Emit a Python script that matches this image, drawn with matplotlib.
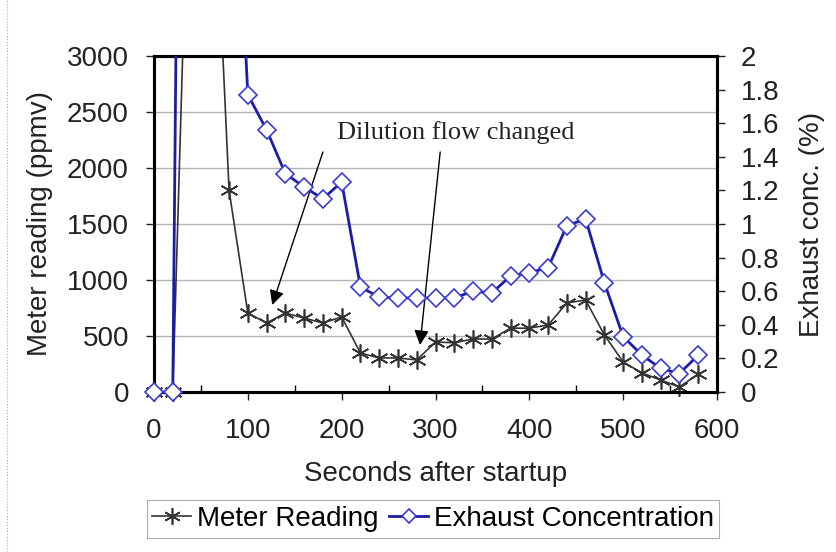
import numpy as np
import matplotlib.pyplot as plt
from matplotlib.lines import Line2D

# data (x every 20 s)
seconds = np.arange(0, 600, 20)
meter_ppmv = [0, 0, 5700, 5450, 1800, 705, 616, 705, 660, 616, 670, 348, 304, 304, 286,
              446, 440, 473, 473, 570, 570, 598, 795, 821, 509, 268, 170, 107, 45, 161]
exhaust_pct = [0, 0, 12.0, 9.0, 4.0, 1.77, 1.56, 1.30, 1.22, 1.15, 1.25, 0.625, 0.565, 0.56, 0.56,
               0.56, 0.56, 0.60, 0.59, 0.69, 0.71, 0.74, 0.99, 1.03, 0.65, 0.33, 0.22, 0.14, 0.11, 0.22]

x_ticks = [0, 100, 200, 300, 400, 500, 600]
left_ticks = [0, 500, 1000, 1500, 2000, 2500, 3000]
right_ticks = np.round(np.arange(0, 2.01, 0.2), 1)
right_labels = ['0', '0.2', '0.4', '0.6', '0.8', '1', '1.2', '1.4', '1.6', '1.8', '2']

plt.rcParams['font.family'] = ['Liberation Sans', 'DejaVu Sans']
fs = 20

fig = plt.figure(figsize=(8.36, 5.52), dpi=100)
ax = fig.add_axes([154/836, 1-392/552, (717-154)/836, (392-56)/552])
ax2 = ax.twinx()

black = '#333333'
blue = '#1c1ca6'
star = (6, 2, 0)

# meter reading (left axis)
ax.plot(seconds, meter_ppmv, color=black, lw=1.2, zorder=3)
m = np.array(meter_ppmv) <= 3000
ax.plot(seconds[m], np.array(meter_ppmv)[m], ls='none', marker=star, ms=13,
        mec=black, mew=1.2, clip_on=False, zorder=4)

# exhaust concentration (right axis)
ax2.plot(seconds, exhaust_pct, color=blue, lw=2, zorder=3)
e = np.array(exhaust_pct) <= 2
ax2.plot(seconds[e], np.array(exhaust_pct)[e], ls='none', marker='D', ms=9,
         mec='#3a3ad6', mfc='white', mew=1.2, clip_on=False, zorder=4)

ax.set_xlim(0, 600)
ax.set_ylim(0, 3000)
ax2.set_ylim(0, 2)
ax.set_xticks(x_ticks)
ax.set_xticks(np.arange(50, 600, 100), minor=True)
ax.set_yticks(left_ticks)
ax2.set_yticks(right_ticks)
ax2.set_yticklabels(right_labels)

ax.yaxis.grid(True, color='#b4b4b4', lw=1)
ax.set_axisbelow(True)

ax.tick_params(axis='y', direction='out', length=6, width=1, pad=12, labelsize=fs, colors='#222222')
ax.tick_params(axis='x', direction='out', length=6, width=1, pad=13, labelsize=fs, colors='#222222')
ax.tick_params(axis='x', which='minor', direction='in', length=5, width=1)
ax2.tick_params(axis='y', direction='out', length=6, width=1, pad=11, labelsize=fs, colors='#222222')

for a in (ax, ax2):
    for s in a.spines.values():
        s.set_linewidth(2.2)
        s.set_color('black')

ax.set_xlabel('Seconds after startup', fontsize=fs, color='#222222')
ax.set_ylabel('Meter reading (ppmv)', fontsize=fs, color='#222222')
ax2.set_ylabel('Exhaust conc. (%)', fontsize=fs, color='#222222')
ax.xaxis.set_label_coords(0.5, -0.205)
ax.yaxis.set_label_coords(-0.18, 0.5)
ax2.yaxis.set_label_coords(1.145, 0.5)

# annotation with two arrows
ax.text(322, 2320, 'Dilution flow changed', family=['Liberation Serif', 'DejaVu Serif'],
        fontsize=19, ha='center', va='center', color='#222222')
arrow = dict(arrowstyle='-|>', color='black', lw=1, mutation_scale=22, shrinkA=0, shrinkB=0)
ax.annotate('', xy=(126, 777), xytext=(180, 2143), arrowprops=arrow, zorder=5)
ax.annotate('', xy=(283.5, 420), xytext=(305, 2143), arrowprops=arrow, zorder=5)

handles = [Line2D([], [], color=black, lw=1.2, marker=star, ms=12, mec=black, mew=1.2),
           Line2D([], [], color=blue, lw=2, marker='D', ms=7, mec='#3a3ad6', mfc='white', mew=1.2)]
leg = fig.legend(handles, ['Meter Reading', 'Exhaust Concentration'], ncol=2, loc='center',
                 bbox_to_anchor=(433/836, 1-519/552), fontsize=fs, frameon=True, fancybox=False,
                 handlelength=1.4, handletextpad=0.2, columnspacing=0.4, borderpad=0.2,
                 borderaxespad=0)
leg.get_frame().set_edgecolor('#999999')
leg.get_frame().set_linewidth(0.8)

# dotted chart-area border on the left
fig.add_artist(Line2D([7/836, 7/836], [0, 1], transform=fig.transFigure, color='#aaaaaa',
                      lw=0.8, ls=':'))

fig.savefig('out.png', dpi=100)
